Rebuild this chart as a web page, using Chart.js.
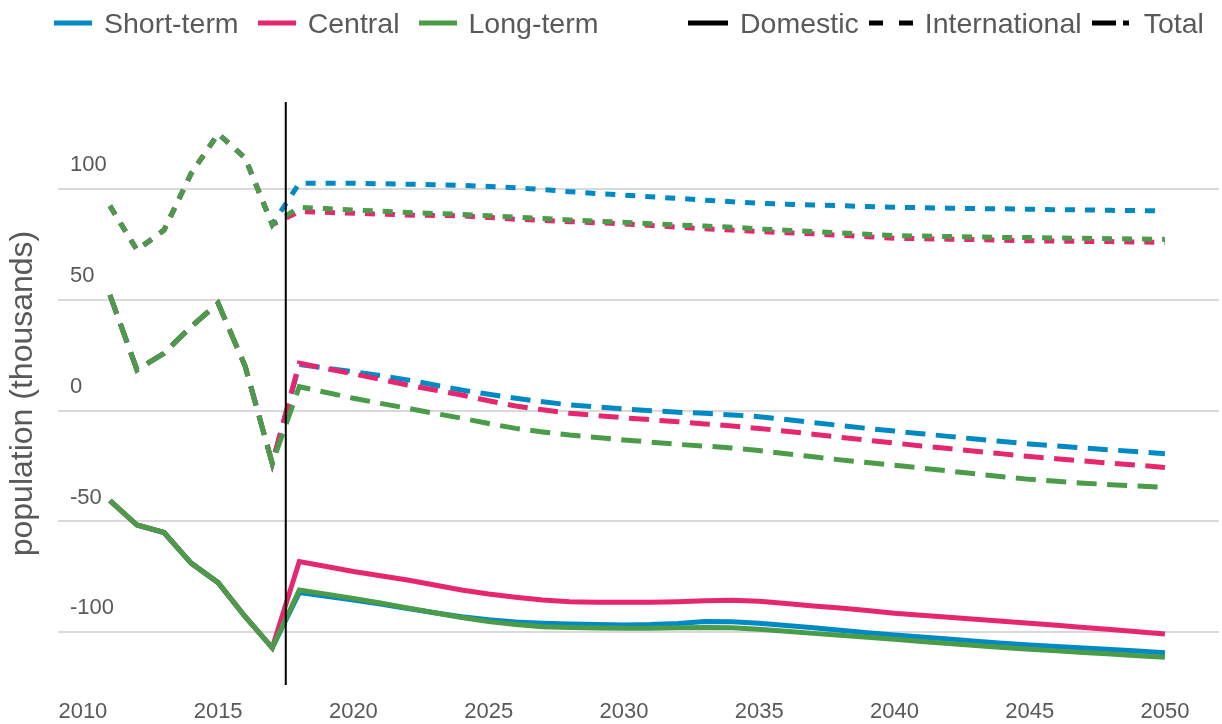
<!DOCTYPE html>
<html>
<head>
<meta charset="utf-8">
<script src="https://cdn.jsdelivr.net/npm/chart.js@4"></script>
<style>
  body { margin: 0; background: #fff; font-family: "Liberation Sans", Arial, sans-serif; }
  #wrapper { position: relative; width: 1222px; height: 724px; }
  #chart-wrapper { position: absolute; left: 0; top: 0; width: 1222px; height: 724px; }
  .legend-group { position: absolute; top: 0; height: 46px; display: flex; align-items: center; font-size: 28.5px; color: #595959; }
  .legend-item { display: flex; align-items: center; white-space: nowrap; }
  .legend-item svg { margin-right: 12px; }
</style>
</head>
<body>
<div id="wrapper">
  <div id="chart-wrapper"><canvas id="chart-line-population"></canvas></div>
  <div class="legend-group" id="scenarioLegend" style="left: 54px"></div>
  <div class="legend-group" id="flowLegend" style="left: 688px"></div>
</div>
<script>
const years = [
  2011, 2012, 2013, 2014, 2015, 2016, 2017, 2018, 2019, 2020,
  2021, 2022, 2023, 2024, 2025, 2026, 2027, 2028, 2029, 2030,
  2031, 2032, 2033, 2034, 2035, 2036, 2037, 2038, 2039, 2040,
  2041, 2042, 2043, 2044, 2045, 2046, 2047, 2048, 2049, 2050,
];
const xTicks = [2010, 2015, 2020, 2025, 2030, 2035, 2040, 2045, 2050];
const yTicks = [-100, -50, 0, 50, 100];
const dividerYear = 2017.5;

// 2011-2017, shared by every scenario
const historyDomestic = [-40.6, -51.6, -55.0, -68.8, -77.6, -93.0, -107.0];
const historyInternational = [92.4, 72.5, 81.5, 107.0, 125.0, 114.0, 84.0];
const historyTotal = [52.2, 18.4, 25.9, 37.9, 48.5, 20.0, -23.8];

// 2018-2050
const shortTermDomestic = [
  -82.1, -83.8, -85.4, -87.3, -89.3, -91.2, -93.0, -94.4, -95.4, -95.9, -96.3,
  -96.5, -96.7, -96.5, -96.0, -95.2, -95.3, -95.9, -96.9, -98.0, -99.1, -100.2,
  -101.2, -102.1, -103.0, -104.0, -104.9, -105.7, -106.4, -107.1, -107.8, -108.5, -109.2,
];
const centralDomestic = [
  -68.1, -70.3, -72.6, -74.5, -76.4, -78.7, -80.9, -82.7, -84.2, -85.4, -86.2,
  -86.4, -86.5, -86.4, -86.2, -85.8, -85.5, -86.0, -87.0, -88.1, -89.1, -90.2,
  -91.4, -92.3, -93.2, -94.1, -95.0, -95.9, -96.8, -97.8, -98.8, -99.8, -100.8,
];
const longTermDomestic = [
  -80.9, -82.8, -84.7, -86.8, -89.0, -91.2, -93.3, -95.2, -96.5, -97.5, -97.9,
  -98.1, -98.2, -98.2, -98.0, -97.8, -98.0, -98.6, -99.5, -100.5, -101.4, -102.3,
  -103.2, -104.2, -105.1, -106.0, -106.9, -107.7, -108.4, -109.1, -109.8, -110.6, -111.3,
];

const shortTermInternational = [
  102.6, 102.6, 102.6, 102.4, 102.2, 102.0, 101.7, 101.2, 100.6, 99.8, 98.8,
  98.0, 97.3, 96.5, 95.8, 95.0, 94.3, 93.6, 93.2, 92.8, 92.5, 92.1,
  91.8, 91.6, 91.4, 91.2, 91.1, 90.9, 90.7, 90.6, 90.4, 90.3, 90.1,
];
const centralInternational = [
  89.8, 89.5, 89.1, 88.7, 88.3, 88.1, 87.9, 87.2, 86.4, 85.9, 85.3,
  84.8, 84.3, 83.6, 82.8, 82.1, 81.5, 80.8, 80.3, 79.8, 79.2, 78.5,
  77.8, 77.6, 77.4, 77.2, 76.9, 76.7, 76.5, 76.4, 76.3, 76.1, 76.0,
];
const longTermInternational = [
  91.8, 91.2, 90.6, 90.0, 89.4, 89.0, 88.6, 88.0, 87.3, 86.7, 86.1,
  85.5, 85.0, 84.4, 83.8, 83.3, 82.8, 82.0, 81.4, 80.8, 80.2, 79.6,
  79.0, 78.8, 78.6, 78.4, 78.2, 78.1, 77.9, 77.8, 77.6, 77.5, 77.3,
];

const shortTermTotal = [
  20.8, 19.2, 17.6, 15.8, 13.9, 11.6, 9.3, 7.4, 5.6, 4.0, 2.6,
  1.7, 0.8, 0.0, -0.7, -1.2, -1.9, -2.7, -4.0, -5.4, -6.7, -8.0,
  -9.2, -10.4, -11.6, -12.8, -13.9, -15.0, -15.9, -16.8, -17.7, -18.5, -19.4,
];
const centralTotal = [
  21.4, 19.0, 16.6, 14.1, 11.6, 9.3, 7.1, 4.5, 2.1, 0.4, -1.2,
  -2.2, -3.2, -4.1, -5.0, -6.0, -6.9, -8.0, -9.3, -10.6, -12.0, -13.3,
  -14.6, -15.9, -17.1, -18.3, -19.5, -20.7, -21.7, -22.7, -23.7, -24.6, -25.6,
];
const longTermTotal = [
  10.8, 8.2, 5.6, 3.3, 1.1, -1.2, -3.4, -5.8, -8.0, -9.6, -11.0,
  -12.1, -13.2, -14.2, -15.2, -16.0, -16.8, -18.0, -19.4, -20.8, -22.2, -23.4,
  -24.6, -25.9, -27.2, -28.5, -29.8, -31.0, -31.9, -32.7, -33.4, -34.0, -34.6,
];

const colors = { short: "#008ac5", central: "#e6276f", long: "#4a9c48" };
const dashes = { domestic: [], international: [10, 10], total: [20, 10.5] };

const yMin = -123.8;
const yMax = 139.3;

function toPoints(history, projection) {
  return history.concat(projection).map((value, i) => ({ x: years[i], y: value }));
}

function makeDataset(label, history, projection, color, dash, order) {
  return {
    label: label,
    data: toPoints(history, projection),
    borderColor: color,
    borderWidth: 5,
    borderDash: dash,
    pointRadius: 0,
    tension: 0,
    fill: false,
    order: order,
  };
}

function createLegend(elementId, items, gap) {
  const container = document.getElementById(elementId);
  items.forEach((item) => {
    const div = document.createElement("div");
    div.className = "legend-item";
    div.style.marginRight = gap + "px";
    const dash = item.dash.length ? item.dash.join(" ") : "none";
    div.innerHTML =
      `<svg width="${item.width}" height="6"><line x1="0" y1="3" x2="${item.width}" y2="3" ` +
      `stroke="${item.color}" stroke-width="5" stroke-dasharray="${dash}"/></svg>` +
      `<span>${item.label}</span>`;
    container.appendChild(div);
  });
}

createLegend(
  "scenarioLegend",
  [
    { label: "Short-term", color: colors.short, dash: [], width: 38 },
    { label: "Central", color: colors.central, dash: [], width: 38 },
    { label: "Long-term", color: colors.long, dash: [], width: 38 },
  ],
  19
);
createLegend(
  "flowLegend",
  [
    { label: "Domestic", color: "#000", dash: [], width: 40 },
    { label: "International", color: "#000", dash: [14, 16], width: 44 },
    { label: "Total", color: "#000", dash: [24, 7, 6, 20], width: 40 },
  ],
  10
);

Chart.defaults.font.family = '"Liberation Sans", Arial, sans-serif';
Chart.defaults.color = "#595959";

const datasets = [
  {
    label: "divider",
    data: [
      { x: dividerYear, y: yMin },
      { x: dividerYear, y: yMax },
    ],
    borderColor: "#000",
    borderWidth: 2,
    pointRadius: 0,
    order: 0,
  },
  makeDataset("Long-term Domestic", historyDomestic, longTermDomestic, colors.long, dashes.domestic, 1),
  makeDataset("Long-term International", historyInternational, longTermInternational, colors.long, dashes.international, 1),
  makeDataset("Long-term Total", historyTotal, longTermTotal, colors.long, dashes.total, 1),
  makeDataset("Central Domestic", historyDomestic, centralDomestic, colors.central, dashes.domestic, 2),
  makeDataset("Central International", historyInternational, centralInternational, colors.central, dashes.international, 2),
  makeDataset("Central Total", historyTotal, centralTotal, colors.central, dashes.total, 2),
  makeDataset("Short-term Domestic", historyDomestic, shortTermDomestic, colors.short, dashes.domestic, 3),
  makeDataset("Short-term International", historyInternational, shortTermInternational, colors.short, dashes.international, 3),
  makeDataset("Short-term Total", historyTotal, shortTermTotal, colors.short, dashes.total, 3),
];

new Chart(document.getElementById("chart-line-population"), {
  type: "line",
  data: { datasets: datasets },
  options: {
    responsive: true,
    maintainAspectRatio: false,
    animation: false,
    layout: { padding: { top: 102, right: 3, bottom: 0, left: 0 } },
    plugins: {
      legend: { display: false },
      tooltip: { enabled: false },
    },
    scales: {
      x: {
        type: "linear",
        min: 2009.08,
        max: 2052,
        grid: { display: false, drawTicks: false },
        border: { display: false },
        afterBuildTicks: (axis) => {
          axis.ticks = xTicks.map((v) => ({ value: v }));
        },
        afterFit: (axis) => {
          axis.height = 39;
        },
        ticks: {
          font: { size: 22, lineHeight: 1 },
          color: "#595959",
          padding: 16,
          maxRotation: 0,
          autoSkip: false,
          callback: (v) => v,
        },
      },
      y: {
        min: yMin,
        max: yMax,
        grid: { color: "#d9d9d9", lineWidth: 2, drawTicks: false },
        border: { display: false },
        afterBuildTicks: (axis) => {
          axis.ticks = yTicks.map((v) => ({ value: v }));
        },
        afterFit: (axis) => {
          axis.width = 58;
        },
        ticks: {
          mirror: true,
          padding: 12,
          labelOffset: -24,
          font: { size: 22 },
          color: "#595959",
          callback: (v) => v,
        },
        title: {
          display: true,
          text: "population (thousands)",
          font: { size: 32 },
          color: "#595959",
          padding: { top: 4, bottom: 0 },
        },
      },
    },
  },
});
</script>
</body>
</html>
